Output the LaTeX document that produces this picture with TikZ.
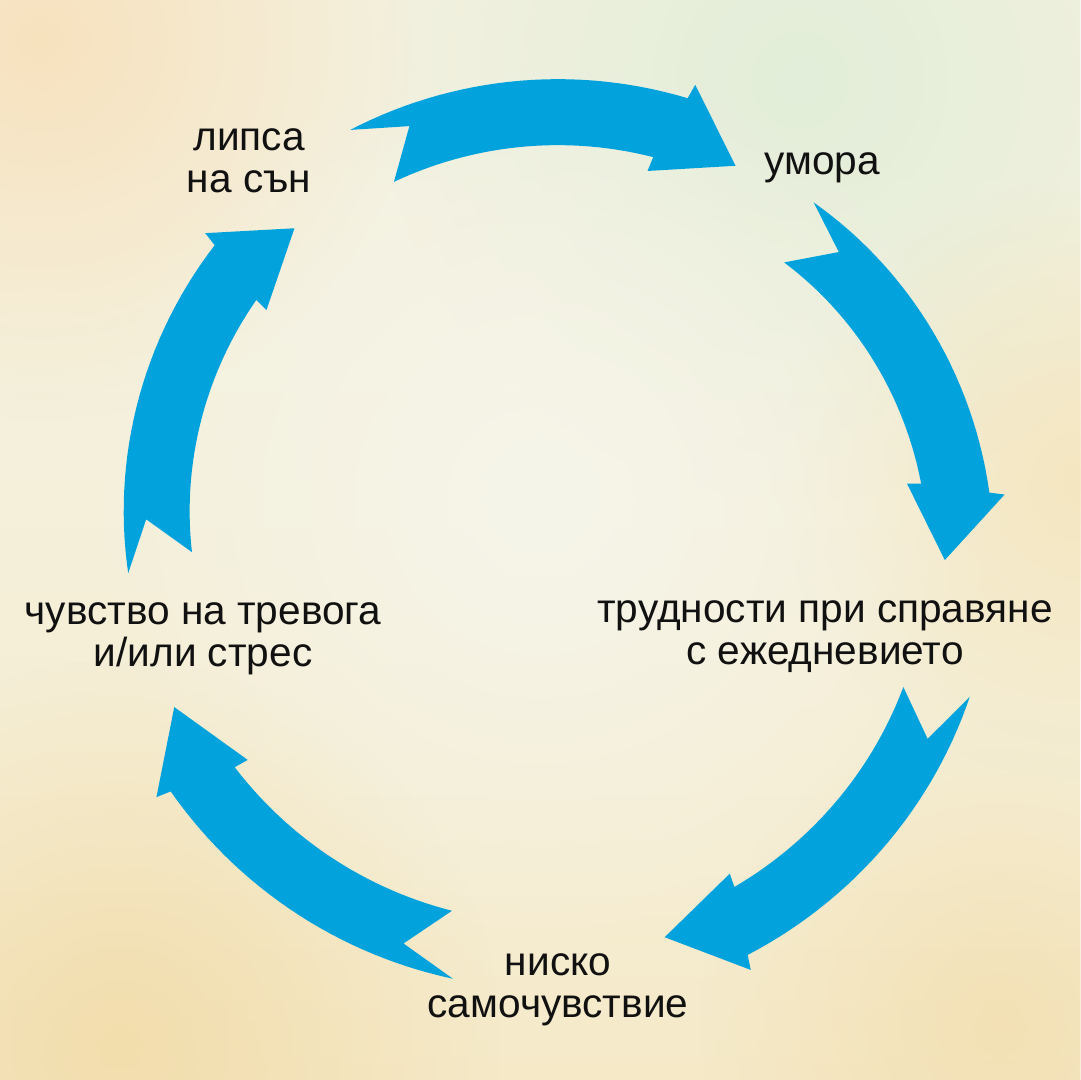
\documentclass[tikz,border=0pt]{standalone}
\usepackage{fontspec}
\setmainfont{Liberation Sans}
\usetikzlibrary{fadings}
\definecolor{arrowblue}{HTML}{02A3DD}
\definecolor{ink}{HTML}{111111}
\definecolor{papertop}{HTML}{F1F1E2}
\definecolor{paper}{HTML}{F4F1DE}
\definecolor{papermid}{HTML}{F5EDD2}
\definecolor{paperwarm}{HTML}{F4E4BA}
\definecolor{paperlow}{HTML}{F1D8A0}
\definecolor{peach}{HTML}{F8E2BE}
\definecolor{mint}{HTML}{E2EED9}
\definecolor{pale}{HTML}{F6F5EA}
\pgfdeclareverticalshading{paperwash}{100bp}{color(0bp)=(paperlow); color(12bp)=(paperwarm);
  color(35bp)=(papermid); color(60bp)=(paper); color(100bp)=(papertop)}
\tikzfading[name=softdisc, inner color=transparent!0, outer color=transparent!100]
\tikzset{
  lbl/.style={font=\fontsize{20.3pt}{21pt}\selectfont, text=ink, align=center,
    anchor=base, inner sep=0pt},
  blob/.style={path fading=softdisc},
}
% tail angle, tail radius, head angle, head radius (all arrows run clockwise)
\newcommand{\cyclearrow}[4]{%
  \fill[arrowblue]
    plot[domain=#1:#3, samples=30] (\x:{#2+(#4-(#2))*(\x-(#1))/((#3)-(#1))+33})
    -- ({#3-0.4}:{#4+48})
    -- ({#3-9.3}:{#4-12})
    -- ({#3+2.6}:{#4-48})
    -- plot[domain=#3+2.3:#1-2.3, samples=30] (\x:{#2+(#4-(#2))*(\x-(#1))/((#3)-(#1))-33})
    -- ({#1-7.3}:{#2+13})
    -- cycle;}

\begin{document}
\begin{tikzpicture}[x=0.5pt, y=0.5pt]
  \useasboundingbox (0,0) rectangle (1080,1080);
  % watercolour paper
  \shade[shading=paperwash] (0,0) rectangle (1080,1080);
  \fill[peach, blob] (40,1040) circle (380);
  \fill[mint, blob] (800,1000) circle (420);
  \fill[paperwarm, blob, opacity=0.8] (1080,600) circle (300);
  \fill[paperlow, blob, opacity=0.7] (120,40) circle (380);
  \fill[paperlow, blob, opacity=0.5] (1000,60) circle (300);
  \fill[pale, blob] (540,580) circle (460);

  \coordinate (ctr) at (554,550);

  \node[lbl] (sleep)   at (249,887) {липса\\на сън};
  \node[lbl] (fatigue) at (822,905) {умора};
  \node[lbl] (coping)  at (825,415) {трудности при справяне\\с ежедневието};
  \node[lbl] (esteem)  at (558,62)  {ниско\\самочувствие};
  \node[lbl] (anxiety) at (203,413) {чувство на тревога\\и/или стрес};

  \begin{scope}[shift={(ctr)}]
    \cyclearrow{117}{416}{72.8}{419}     % sleep -> fatigue
    \cyclearrow{51.6}{385}{4.9}{404}     % fatigue -> coping
    \cyclearrow{-21.9}{415}{-65.5}{434}  % coping -> esteem
    \cyclearrow{-102.7}{427}{-145.7}{431}% esteem -> anxiety
    \cyclearrow{185.8}{395}{140}{410}    % anxiety -> sleep
  \end{scope}
\end{tikzpicture}
\end{document}
